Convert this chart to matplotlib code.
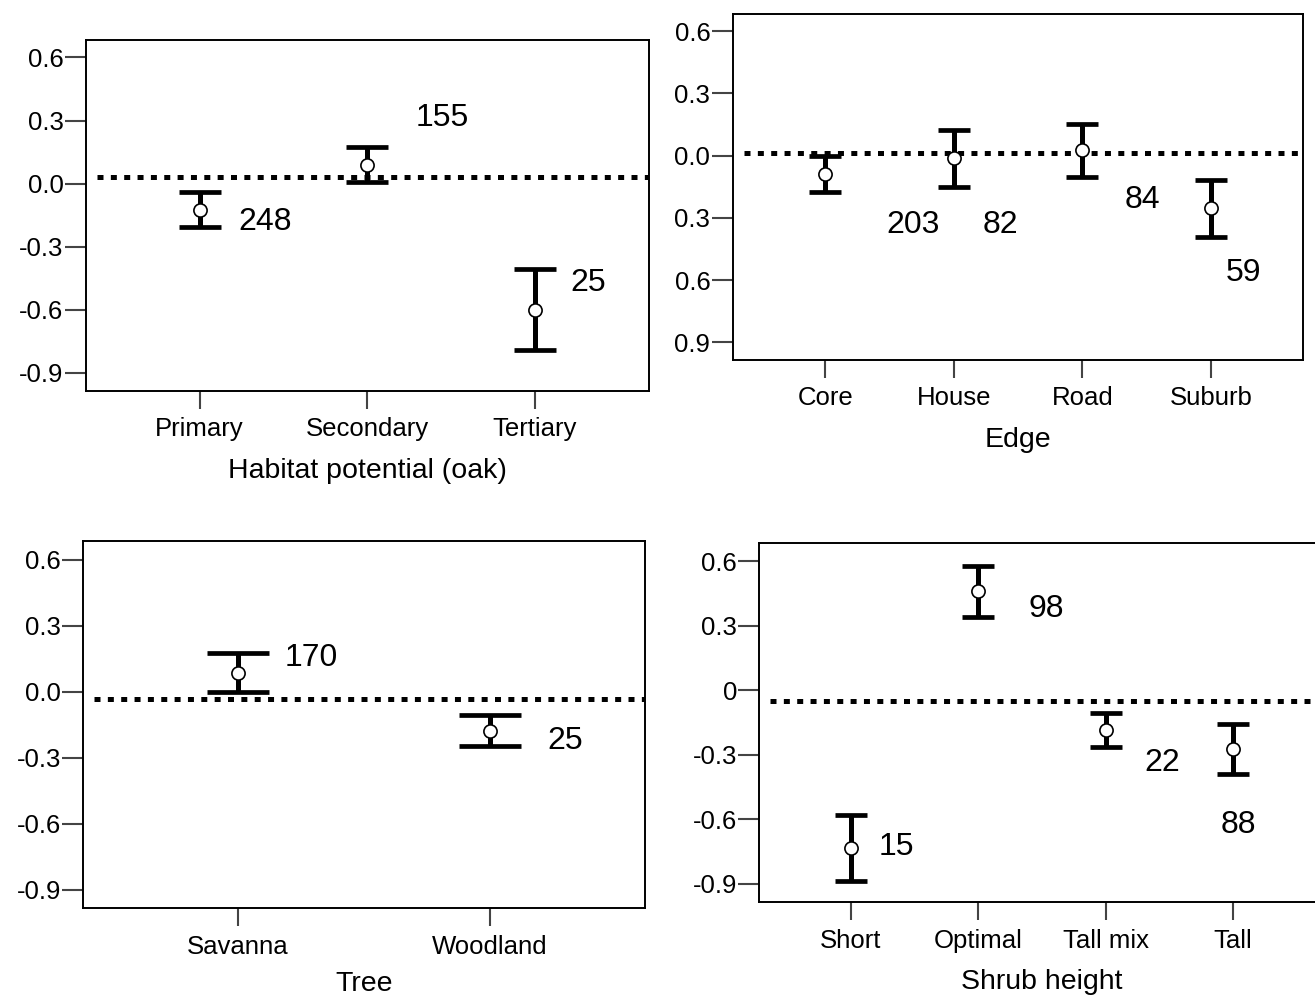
import matplotlib
matplotlib.use('Agg')
import matplotlib.pyplot as plt
import numpy as np

plt.rcParams['font.family'] = ['Liberation Sans', 'DejaVu Sans']

# Habitat potential (oak)
habitat_labels = ['Primary', 'Secondary', 'Tertiary']
habitat_mean = [-0.127, 0.090, -0.601]
habitat_lower = [-0.205, 0.008, -0.791]
habitat_upper = [-0.041, 0.176, -0.404]
habitat_n = [248, 155, 25]
habitat_ref = 0.032

# Edge
edge_labels = ['Core', 'House', 'Road', 'Suburb']
edge_mean = [-0.088, -0.013, 0.026, -0.253]
edge_lower = [-0.175, -0.151, -0.104, -0.391]
edge_upper = [-0.003, 0.125, 0.154, -0.117]
edge_n = [203, 82, 84, 59]
edge_ref = 0.013

# Tree
tree_labels = ['Savanna', 'Woodland']
tree_mean = [0.083, -0.177]
tree_lower = [-0.002, -0.249]
tree_upper = [0.176, -0.107]
tree_n = [170, 25]
tree_ref = -0.035

# Shrub height
shrub_labels = ['Short', 'Optimal', 'Tall mix', 'Tall']
shrub_mean = [-0.734, 0.460, -0.184, -0.274]
shrub_lower = [-0.885, 0.339, -0.262, -0.387]
shrub_upper = [-0.580, 0.577, -0.104, -0.156]
shrub_n = [15, 98, 22, 88]
shrub_ref = -0.050

yticks = [0.6, 0.3, 0.0, -0.3, -0.6, -0.9]
ytick_std = ['0.6', '0.3', '0.0', '-0.3', '-0.6', '-0.9']
ytick_edge = ['0.6', '0.3', '0.0', '0.3', '0.6', '0.9']
ytick_shrub = ['0.6', '0.3', '0', '-0.3', '-0.6', '-0.9']

# where the sample sizes sit (data coords)
habitat_npos = [(1.39, -0.181), (2.45, 0.311), (3.32, -0.474)]
edge_npos = [(1.68, -0.335), (2.36, -0.335), (3.47, -0.215), (4.25, -0.565)]
tree_npos = [(1.29, 0.153), (2.30, -0.222)]
shrub_npos = [(1.36, -0.726), (2.53, 0.376), (3.44, -0.339), (4.04, -0.625)]


def ci_panel(fig, rect, labels, mean, lower, upper, n, npos, ref,
             xlabel, ylabels, pad, capsize, labelpad=12):
    ax = fig.add_axes(rect)
    x = np.arange(1, len(labels) + 1)
    mean = np.array(mean)
    err = [mean - np.array(lower), np.array(upper) - mean]
    # dotted reference line
    ax.axhline(ref, xmin=0.02, xmax=1, color='k', linewidth=3.6,
               linestyle=(0, (1.2, 1.47)), dash_capstyle='butt', zorder=2)
    # confidence intervals
    ax.errorbar(x, mean, yerr=err, fmt='none', ecolor='k',
                elinewidth=3.6, capsize=capsize, capthick=3.4, zorder=3)
    ax.plot(x, mean, 'o', markersize=9.5, markerfacecolor='white',
            markeredgecolor='k', markeredgewidth=1.2, zorder=4)
    for val, (tx, ty) in zip(n, npos):
        ax.text(tx, ty, str(val), fontsize=23, ha='center', va='center')
    ax.set_xlim(1 - pad, len(labels) + pad)
    ax.set_ylim(-0.985, 0.683)
    ax.set_xticks(x)
    ax.set_xticklabels(labels)
    ax.set_yticks(yticks)
    ax.set_yticklabels(ylabels)
    ax.tick_params(axis='y', length=15, width=1.5, color='#444444',
                   labelsize=18.5, pad=1)
    ax.tick_params(axis='x', length=13, width=1.5, color='#444444',
                   labelsize=18.5, pad=6)
    for sp in ax.spines.values():
        sp.set_linewidth(1.4)
    ax.set_xlabel(xlabel, fontsize=20.5, labelpad=labelpad)
    return ax


fig = plt.figure(figsize=(13.15, 9.96), dpi=100)

ci_panel(fig, [0.0651, 0.6077, 0.4284, 0.3521], habitat_labels,
         habitat_mean, habitat_lower, habitat_upper, habitat_n,
         habitat_npos, habitat_ref, 'Habitat potential (oak)',
         ytick_std, 0.68, 15.3)
ci_panel(fig, [0.5571, 0.6386, 0.4341, 0.3474], edge_labels,
         edge_mean, edge_lower, edge_upper, edge_n,
         edge_npos, edge_ref, 'Edge', ytick_edge, 0.72, 11.5)
ci_panel(fig, [0.0633, 0.0880, 0.4269, 0.3684], tree_labels,
         tree_mean, tree_lower, tree_upper, tree_n,
         tree_npos, tree_ref, 'Tree', ytick_std, 0.614, 22, labelpad=9)
ci_panel(fig, [0.5773, 0.0941, 0.4303, 0.3604], shrub_labels,
         shrub_mean, shrub_lower, shrub_upper, shrub_n,
         shrub_npos, shrub_ref, 'Shrub height', ytick_shrub, 0.72, 11.5)

fig.savefig('out.png', dpi=100)
